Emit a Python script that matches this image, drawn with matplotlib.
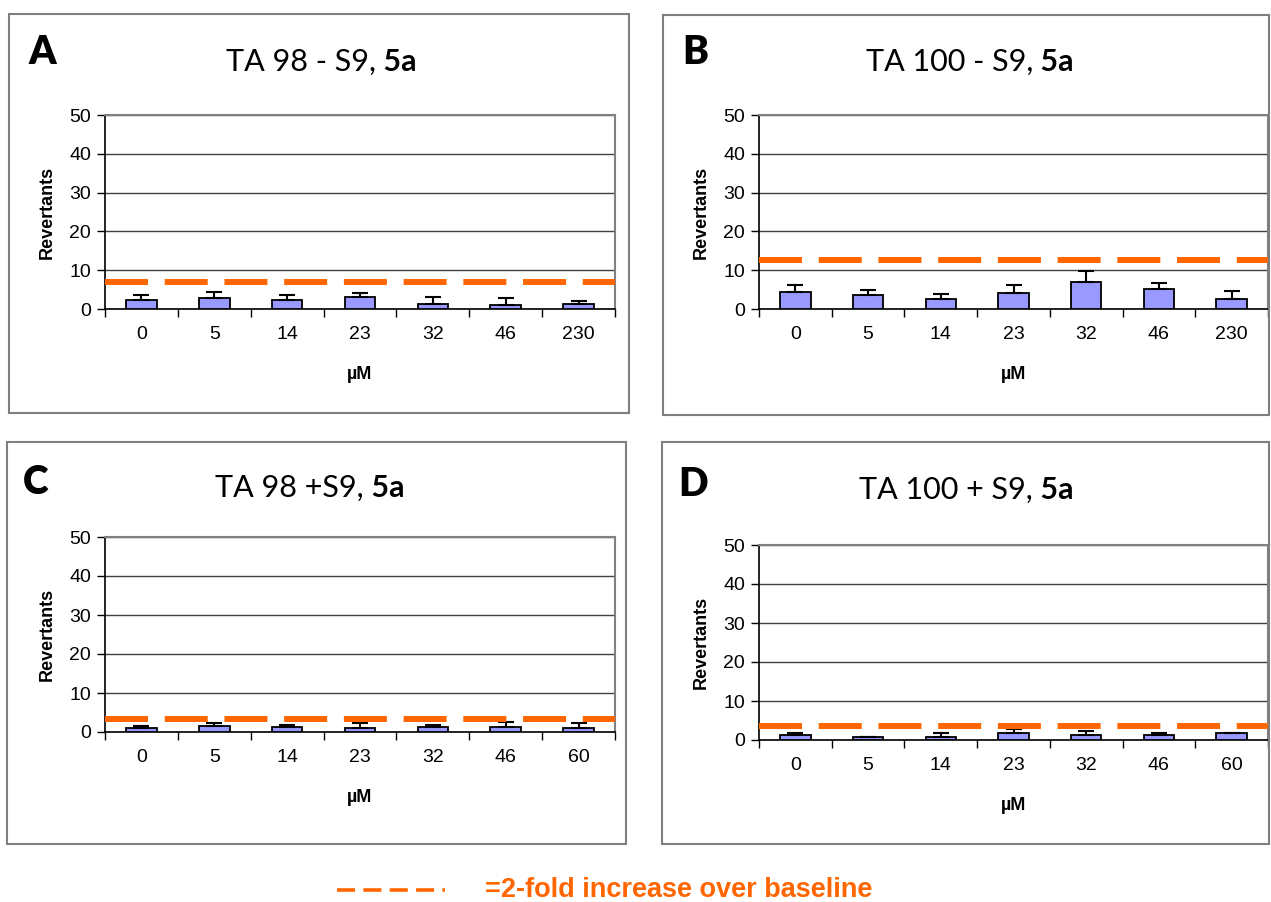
import matplotlib.pyplot as plt
from matplotlib.lines import Line2D
from matplotlib.patches import Rectangle
import numpy as np

# doses (uM) per panel
doses_minus = ["0", "5", "14", "23", "32", "46", "230"]
doses_plus = ["0", "5", "14", "23", "32", "46", "60"]

# mean revertants and upper error (sd) per panel
a_mean = [2.3, 2.8, 2.3, 3.0, 1.3, 1.0, 1.3]
a_err = [1.2, 1.5, 1.2, 1.0, 1.7, 1.8, 0.8]
b_mean = [4.5, 3.7, 2.5, 4.2, 7.0, 5.2, 2.5]
b_err = [1.8, 1.3, 1.3, 2.1, 2.7, 1.5, 2.2]
c_mean = [0.9, 1.6, 1.4, 0.9, 1.4, 1.4, 0.9]
c_err = [0.7, 0.7, 0.5, 1.3, 0.5, 1.1, 1.3]
d_mean = [1.2, 0.8, 0.8, 1.7, 1.4, 1.4, 1.9]
d_err = [0.7, 0.0, 1.1, 1.2, 1.0, 0.5, 0.0]

# 2-fold over baseline
a_thr = 6.9
b_thr = 12.6
c_thr = 3.3
d_thr = 3.7

W, H = 1271, 902
ORANGE = "#FF6600"
BAR = "#9999FF"

plt.rcParams["font.family"] = ["Liberation Sans", "DejaVu Sans"]
fig = plt.figure(figsize=(W / 100, H / 100), dpi=100)


def px(x0, y0, x1, y1):
    # pixel box -> figure fraction rect
    return [x0 / W, 1 - y1 / H, (x1 - x0) / W, (y1 - y0) / H]


def panel(box, axbox, letter, letter_xy, title_main, title_xy, doses, mean, err, thr):
    r = px(*box)
    fig.patches.append(Rectangle((r[0], r[1]), r[2], r[3], transform=fig.transFigure,
                                 fill=False, edgecolor="#7f7f7f", linewidth=1.5))
    fig.text(letter_xy[0] / W, 1 - letter_xy[1] / H, letter, fontsize=28, fontweight="heavy",
             family=["Lato", "DejaVu Sans"], ha="left", va="center")
    fig.text(title_xy[0] / W, 1 - title_xy[1] / H, title_main, fontsize=22,
             family=["Lato", "DejaVu Sans"], ha="right", va="center")
    fig.text(title_xy[0] / W, 1 - title_xy[1] / H, " 5a", fontsize=22, fontweight="bold",
             family=["Lato", "DejaVu Sans"], ha="left", va="center")

    ax = fig.add_axes(px(*axbox))
    x = np.arange(len(doses))
    ax.bar(x, mean, width=0.42, color=BAR, edgecolor="black", linewidth=1.3, zorder=3)
    ax.errorbar(x, mean, yerr=[np.zeros(len(err)), err], fmt="none", ecolor="black",
                elinewidth=1.5, capsize=5.5, capthick=1.5, zorder=4)
    ax.axhline(thr, color=ORANGE, linewidth=4.3, dashes=(7.2, 2.8), zorder=5)

    ax.set_xlim(-0.5, len(doses) - 0.5)
    ax.set_ylim(0, 50)
    ax.set_yticks([0, 10, 20, 30, 40, 50])
    ax.yaxis.grid(True, color="#404040", linewidth=1.0, zorder=0)
    ax.set_axisbelow(True)
    ax.set_xticks(np.arange(-0.5, len(doses)), minor=False)
    ax.set_xticklabels([])
    ax.set_xticks(x, minor=True)
    ax.set_xticklabels(doses, minor=True)
    ax.tick_params(axis="x", which="major", length=6, width=1, direction="out")
    ax.tick_params(axis="x", which="minor", length=0, pad=12, labelsize=14)
    ax.tick_params(axis="y", length=6, width=1, direction="out", labelsize=14, pad=4)
    for s in ["left", "bottom"]:
        ax.spines[s].set_color("black")
        ax.spines[s].set_linewidth(1.2)
    for s in ["top", "right"]:
        ax.spines[s].set_color("#808080")
        ax.spines[s].set_linewidth(1.5)
    ax.set_ylabel("Revertants", fontsize=13, fontweight="bold", labelpad=10)
    ax.set_xlabel("\u00b5M", fontsize=13, fontweight="bold", labelpad=17)
    return ax


panel((9, 14, 629, 413), (105, 115, 615, 309), "A", (29, 52), "TA 98 - S9,", (376, 62),
      doses_minus, a_mean, a_err, a_thr)
panel((663, 15, 1269, 415), (759, 115, 1268, 309), "B", (682, 52), "TA 100 - S9,", (1033, 62),
      doses_minus, b_mean, b_err, b_thr)
panel((7, 442, 626, 844), (105, 537, 615, 732), "C", (23, 482), "TA 98 +S9,", (364, 488),
      doses_plus, c_mean, c_err, c_thr)
panel((662, 442, 1269, 844), (759, 545, 1268, 740), "D", (678, 485), "TA 100 + S9,", (1033, 490),
      doses_plus, d_mean, d_err, d_thr)

# legend at bottom
fig.lines.append(Line2D([337 / W, 445 / W], [1 - 890 / H, 1 - 890 / H], transform=fig.transFigure,
                        color=ORANGE, linewidth=2.6, dashes=(5.0, 2.3)))
fig.text(485 / W, 1 - 890 / H, "=2-fold increase over baseline", color=ORANGE, fontsize=19.5,
         fontweight="bold", ha="left", va="center")

fig.savefig("out.png", dpi=100)
